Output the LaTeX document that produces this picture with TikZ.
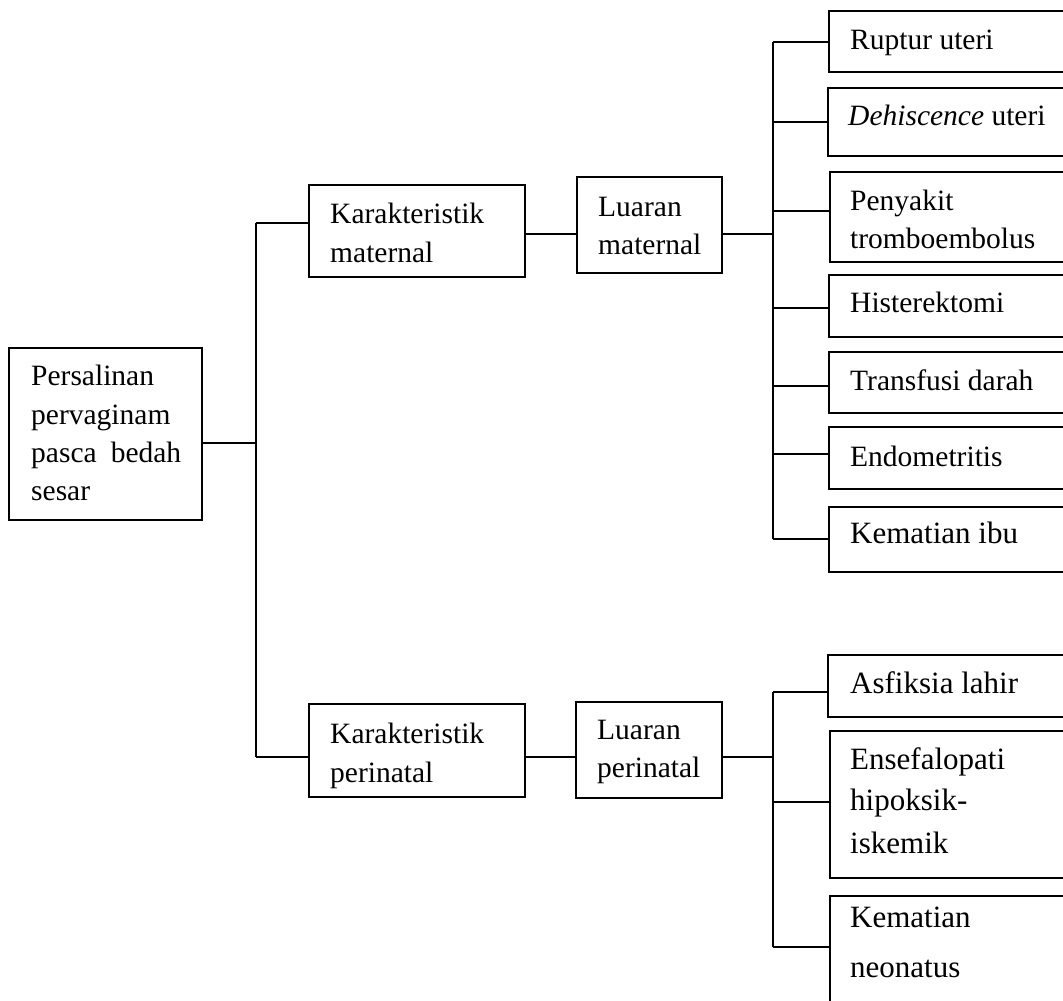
\documentclass[tikz,border=0pt]{standalone}
\usepackage{fontspec}
\setmainfont{Liberation Serif}
\begin{document}
\begin{tikzpicture}[x=1pt,y=-1pt,
  box/.style={draw,line width=1.8pt,rectangle,inner sep=0pt,outer sep=0pt,anchor=north west},
  txt/.style={inner sep=0pt,anchor=base west,font=\fontsize{29.5}{38}\selectfont},
  txtb/.style={inner sep=0pt,anchor=base west,font=\fontsize{31}{40}\selectfont},
  conn/.style={line width=1.8pt}]
\useasboundingbox (0,0) rectangle (1063,1001);
\clip (0,0) rectangle (1063,1001);
% boxes
\node[box,minimum width=193pt,minimum height=172pt] (main) at (9,348) {};
\node[box,minimum width=216pt,minimum height=92pt] (kmat) at (309,185) {};
\node[box,minimum width=145pt,minimum height=96pt] (lmat) at (577,177) {};
\node[box,minimum width=216pt,minimum height=93pt] (kper) at (309,704) {};
\node[box,minimum width=146pt,minimum height=96pt] (lper) at (576,702) {};
\node[box,minimum width=260pt,minimum height=61pt] (r1) at (829,11) {};
\node[box,minimum width=260pt,minimum height=68pt] (r2) at (828,88) {};
\node[box,minimum width=260pt,minimum height=90pt] (r3) at (830,172) {};
\node[box,minimum width=260pt,minimum height=62pt] (r4) at (829,275) {};
\node[box,minimum width=260pt,minimum height=61pt] (r5) at (829,352) {};
\node[box,minimum width=260pt,minimum height=62pt] (r6) at (829,427) {};
\node[box,minimum width=260pt,minimum height=65pt] (r7) at (829,507) {};
\node[box,minimum width=260pt,minimum height=62pt] (p1) at (828,655) {};
\node[box,minimum width=260pt,minimum height=147pt] (p2) at (830,731) {};
\node[box,minimum width=260pt,minimum height=150pt] (p3) at (830,896) {};
% texts
\node[txt] (t1) at (31,385) {Persalinan};
\node[txt] (t2) at (31,424) {pervaginam};
\node[txt] (t3) at (31,462) {\makebox[150pt][s]{pasca bedah}};
\node[txt] (t4) at (31,500) {sesar};
\node[txt] (k1) at (330,223) {Karakteristik};
\node[txt] (k2) at (330,262) {maternal};
\node[txt] (l1) at (598,216) {Luaran};
\node[txt] (l2) at (598,254) {maternal};
\node[txt] (rt1) at (850,49) {Ruptur uteri};
\node[txt] (rt2) at (848,125) {\textit{Dehiscence} uteri};
\node[txt] (rt3a) at (850,210) {Penyakit};
\node[txt] (rt3b) at (850,248) {tromboembolus};
\node[txt] (rt4) at (850,312) {Histerektomi};
\node[txt] (rt5) at (850,390) {Transfusi darah};
\node[txt] (rt6) at (850,466) {Endometritis};
\node[txtb] (rt7) at (850,543) {Kematian ibu};
\node[txt] (k3) at (330,743) {Karakteristik};
\node[txt] (k4) at (330,782) {perinatal};
\node[txt] (l3) at (597,739) {Luaran};
\node[txt] (l4) at (597,777) {perinatal};
\node[txtb] (pt1) at (850,693) {Asfiksia lahir};
\node[txtb] (pt2a) at (850,769) {Ensefalopati};
\node[txtb] (pt2b) at (850,810) {hipoksik-};
\node[txtb] (pt2c) at (850,853) {iskemik};
\node[txtb] (pt3a) at (850,927) {Kematian};
\node[txtb] (pt3b) at (850,977) {neonatus};
% coordinates
\coordinate (LT) at (256,223);
\coordinate (LB) at (256,757);
\coordinate (LM) at (256,443);
\coordinate (MM) at (773,234);
\coordinate (b1) at (773,42);
\coordinate (b2) at (773,122);
\coordinate (b3) at (773,211);
\coordinate (b4) at (773,308);
\coordinate (b5) at (773,386);
\coordinate (b6) at (773,454);
\coordinate (b7) at (773,539);
\coordinate (q1) at (773,692);
\coordinate (q2) at (773,802);
\coordinate (q3) at (773,947);
% connectors
\draw[conn] (LT) -- (LB);
\draw[conn] (LM -| main.east) -- (LM);
\draw[conn] (LT) -- (LT -| kmat.west);
\draw[conn] (MM -| kmat.east) -- (MM -| lmat.west);
\draw[conn] (MM -| lmat.east) -- (MM);
\draw[conn] (b1) -- (b7);
\foreach \b/\r in {b1/r1,b2/r2,b3/r3,b4/r4,b5/r5,b6/r6,b7/r7}
  \draw[conn] (\b) -- (\b -| \r.west);
\draw[conn] (LB) -- (LB -| kper.west);
\draw[conn] (LB -| kper.east) -- (LB -| lper.west);
\draw[conn] (LB -| lper.east) -- (LB -| q1);
\draw[conn] (q1) -- (q3);
\foreach \b/\r in {q1/p1,q2/p2,q3/p3}
  \draw[conn] (\b) -- (\b -| \r.west);
\end{tikzpicture}
\end{document}
